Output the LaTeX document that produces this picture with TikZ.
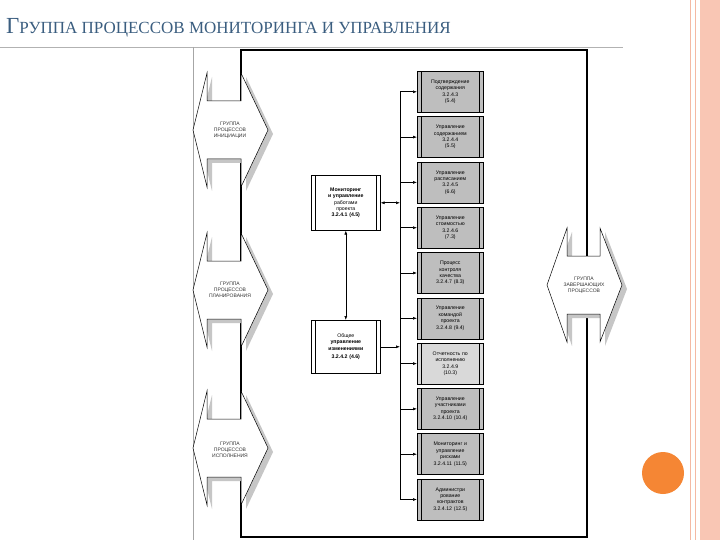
\documentclass[tikz,border=0pt]{standalone}
\usepackage{fontspec}
\setmainfont{Liberation Sans}
\newfontfamily\titlefont{Liberation Serif}
\usetikzlibrary{arrows.meta,calc}
\definecolor{titleblue}{HTML}{3B5E80}
\definecolor{boxgray}{HTML}{BEBEBE}
\definecolor{boxlight}{HTML}{D9D9D9}
\definecolor{salmon}{HTML}{F9C6B4}
\definecolor{pinkline}{HTML}{F4B9A3}
\definecolor{dotorange}{HTML}{F58634}
\newcommand\hexshp[5]{%
 \fill[gray!45] ($(#2,#5-57)+(5,4)$) -- ++(0,28) -- ++(#3-#2,0) -- ++(0,-28) -- ($(#4,#5)+(5,4)$) -- ($(#3,#5+57)+(5,4)$) -- ++(0,-28) -- ++(#2-#3,0) -- ++(0,28) -- ($(#1,#5)+(5,4)$) -- cycle;
 \draw[fill=white,line width=0.5pt] (#2,#5-57) -- (#2,#5-29) -- (#3,#5-29) -- (#3,#5-57) -- (#4,#5) -- (#3,#5+57) -- (#3,#5+29) -- (#2,#5+29) -- (#2,#5+57) -- (#1,#5) -- cycle;}
\tikzset{
 lbl/.style={font=\fontsize{5}{6.2}\selectfont,align=center,text=black!80,inner sep=0pt},
 proc/.style={draw,line width=0.6pt,minimum width=66pt,minimum height=41pt,anchor=north west,inner sep=1pt,
   font=\fontsize{5.2}{6.4}\selectfont,align=center,text width=56pt,
   path picture={\draw[line width=0.4pt] ([xshift=4pt]path picture bounding box.north west) -- ([xshift=4pt]path picture bounding box.south west);
                 \draw[line width=0.4pt] ([xshift=-4pt]path picture bounding box.north east) -- ([xshift=-4pt]path picture bounding box.south east);}},
 rbox/.style={proc,fill=boxgray},
 cbox/.style={proc,fill=white,minimum width=69pt,text width=58pt},
 arr/.style={-{Latex[length=4pt,width=3pt]},line width=0.6pt},
}
\begin{document}
\begin{tikzpicture}[x=1pt,y=-1pt]
\useasboundingbox (0,0) rectangle (720,540);
\fill[white] (0,0) rectangle (720,540);
% right decoration
\fill[salmon] (700,0) rectangle (720,540);
\draw[pinkline,line width=1pt] (690,0) -- (690,540);
\draw[pinkline,line width=1pt] (695,0) -- (695,540);
\fill[dotorange] (663,473) circle (21);
% title
\node[anchor=base west,inner sep=0,text=titleblue,font=\titlefont] (title) at (6,34)
 {{\fontsize{23}{23}\selectfont Г}{\fontsize{17}{18}\selectfont РУППА ПРОЦЕССОВ МОНИТОРИНГА И УПРАВЛЕНИЯ}};
\draw[gray!60,line width=0.4pt] (0,47) -- (623,47);
% outer thin line
\draw[gray!70,line width=0.5pt] (193,47) -- (193,540);
% frame
\draw[line width=1.6pt] (241,50) -- (587,50) -- (587,537) -- (241,537) -- cycle;
% process group shapes
\hexshp{193}{207}{241}{268}{130}
\hexshp{193}{207}{241}{268}{290}
\hexshp{193}{207}{241}{268}{448}
\hexshp{547}{567}{600}{622}{285}
\node[lbl] (g1) at (230,130) {ГРУППА\\ПРОЦЕССОВ\\ИНИЦИАЦИИ};
\node[lbl] (g2) at (230,290) {ГРУППА\\ПРОЦЕССОВ\\ПЛАНИРОВАНИЯ};
\node[lbl] (g3) at (230,450) {ГРУППА\\ПРОЦЕССОВ\\ИСПОЛНЕНИЯ};
\node[lbl] (g4) at (584,285) {ГРУППА\\ЗАВЕРШАЮЩИХ\\ПРОЦЕССОВ};
% centre boxes
\node[cbox,minimum height=55pt] (m1) at (311,175) {\textbf{Мониторинг}\\\textbf{и управление}\\работами\\проекта\\\textbf{3.2.4.1 (4.5)}};
\node[cbox,minimum height=53pt] (m2) at (311,320) {Общее\\\textbf{управление}\\\textbf{изменениями}\\[2pt] \textbf{3.2.4.2 (4.6)}};
% right boxes
\node[rbox] (r1) at (417,71) {Подтверждение\\содержания\\3.2.4.3\\(5.4)};
\node[rbox] (r2) at (417,116.3) {Управление\\содержанием\\3.2.4.4\\(5.5)};
\node[rbox] (r3) at (417,161.6) {Управление\\расписанием\\3.2.4.5\\(6.6)};
\node[rbox] (r4) at (417,206.9) {Управление\\стоимостью\\3.2.4.6\\(7.3)};
\node[rbox] (r5) at (417,252.2) {Процесс\\контроля\\качества\\3.2.4.7 (8.3)};
\node[rbox] (r6) at (417,297.5) {Управление\\командой\\проекта\\3.2.4.8 (9.4)};
\node[rbox,fill=boxlight] (r7) at (417,342.8) {Отчетность по\\исполнению\\3.2.4.9\\(10.3)};
\node[rbox] (r8) at (417,388.1) {Управление\\участниками\\проекта\\3.2.4.10 (10.4)};
\node[rbox] (r9) at (417,433.4) {Мониторинг и\\управление\\рисками\\3.2.4.11 (11.5)};
\node[rbox] (r10) at (417,478.7) {Администри\\рование\\контрактов\\3.2.4.12 (12.5)};
% bus
\coordinate (bus) at (400,0);
\draw[line width=0.6pt] (bus |- r1.west) -- (bus |- r10.west);
\foreach \i in {1,...,10} {\draw[arr] (bus |- r\i.west) -- (r\i.west);}
\draw[{Latex[length=4pt,width=3pt]}-{Latex[length=4pt,width=3pt]},line width=0.6pt] (m1.east) -- (bus |- m1.east);
\draw[arr] (m2.east) -- (bus |- m2.east);
\draw[{Latex[length=4pt,width=3pt]}-{Latex[length=4pt,width=3pt]},line width=0.6pt] (m1.south) -- (m2.north);
\end{tikzpicture}
\end{document}
